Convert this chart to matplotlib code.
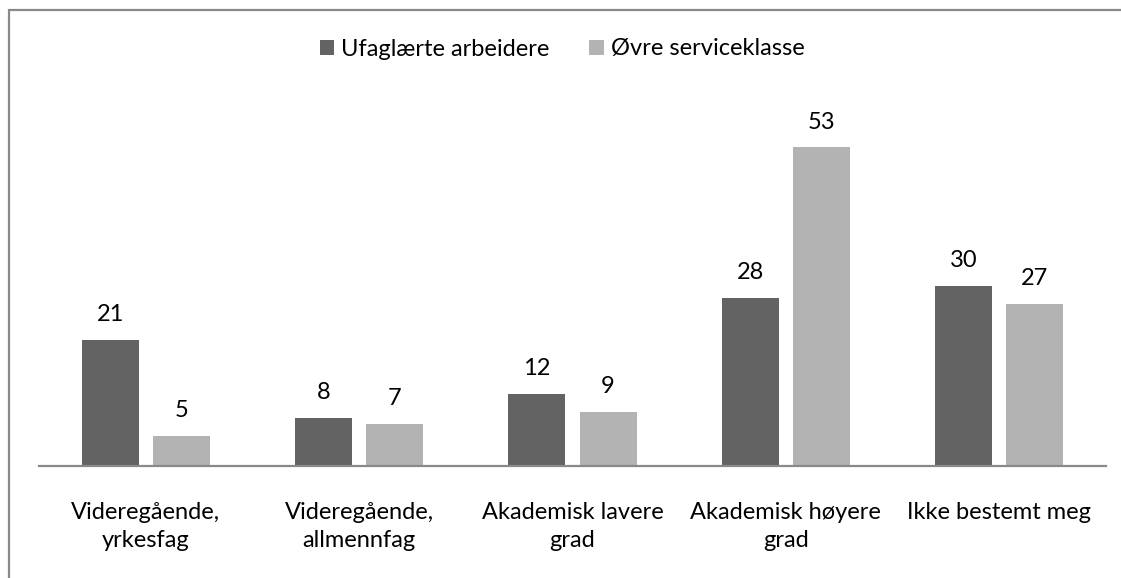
import matplotlib.pyplot as plt
import numpy as np
from matplotlib.patches import Rectangle

plt.rcParams['font.family'] = ['Lato', 'DejaVu Sans']

categories = ['Videregående,\nyrkesfag', 'Videregående,\nallmennfag', 'Akademisk lavere\ngrad',
              'Akademisk høyere\ngrad', 'Ikke bestemt meg']
ufaglaerte = [21, 8, 12, 28, 30]
ovre = [5, 7, 9, 53, 27]
series_names = ['Ufaglærte arbeidere', 'Øvre serviceklasse']

W, H = 1121, 578
fig = plt.figure(figsize=(W / 100, H / 100), dpi=100)

# outer chart frame (cut off at right and bottom)
fig.patches.append(Rectangle((9 / W, -0.1), 1.2, (H - 10) / H + 0.1, transform=fig.transFigure,
                             fill=False, edgecolor='#898989', lw=1.6))

ax = fig.add_axes([39 / W, 112 / H, (1106 - 39) / W, 361 / H])
x = np.arange(len(categories))
w = 0.267
off = 0.1665
b1 = ax.bar(x - off, ufaglaerte, w, color='#636363', label=series_names[0])
b2 = ax.bar(x + off, ovre, w, color='#b3b3b3', label=series_names[1])

for bars in (b1, b2):
    for r in bars:
        ax.annotate(str(int(r.get_height())), (r.get_x() + r.get_width() / 2, r.get_height()),
                    xytext=(0, 10.5), textcoords='offset points', ha='center', va='bottom',
                    fontsize=17, color='black')

ax.set_xlim(-0.5, len(categories) - 0.5)
ax.set_ylim(0, 60)
ax.set_xticks(x)
ax.set_xticklabels(categories, fontsize=17, linespacing=1.38)
ax.tick_params(axis='x', length=0, pad=26)
ax.set_yticks([])
for s in ['top', 'right', 'left']:
    ax.spines[s].set_visible(False)
ax.spines['bottom'].set_color('#898989')
ax.spines['bottom'].set_linewidth(1.6)

fig.legend(loc='center', bbox_to_anchor=(562 / W, 1 - 49 / H), ncol=2, frameon=False,
           fontsize=17, handlelength=0.6, handleheight=0.6, handletextpad=0.3, columnspacing=1.7)

fig.savefig('out.png', dpi=100)
